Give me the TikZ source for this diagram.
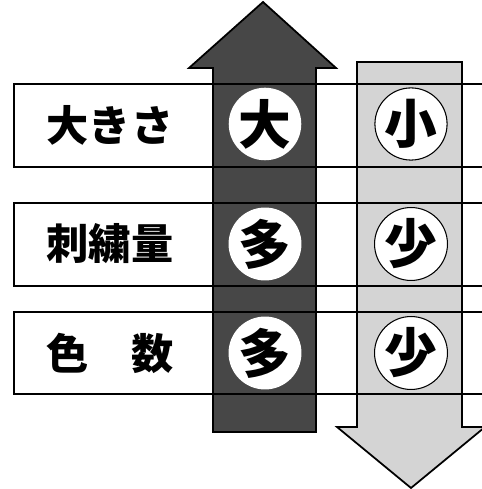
\documentclass[tikz,border=0pt]{standalone}
\usepackage{fontspec}
\newfontfamily\jpfont{Noto Sans CJK JP}
\usepackage{tikz}
\usetikzlibrary{positioning}
\usepackage{xcolor}
\tikzset{%
	rowbox/.style={
		draw,
		line width=1.1pt
	},
	uparrow/.style={
		draw,
		line width=1pt,
		fill=black!72
	},
	downarrow/.style={
		draw,
		line width=1pt,
		fill=black!17
	},
	rowlabel/.style={
		inner sep=0pt,
		font=\jpfont\bfseries\fontsize{24}{24}\selectfont
	},
	bigmark/.style={
		circle,
		fill=white,
		inner sep=0pt,
		minimum size=1.36cm,
		font=\jpfont\bfseries\fontsize{30}{30}\selectfont
	},
	smallmark/.style={
		circle,
		draw,
		line width=0.6pt,
		fill=white,
		inner sep=0pt,
		minimum size=1.44cm,
		font=\jpfont\bfseries\fontsize{30}{30}\selectfont
	},
}

\begin{document}
\begin{tikzpicture}[x=0.02cm,y=0.02cm]
			\useasboundingbox (0,0) rectangle (482,489);
			\clip (0,0) rectangle (482,489);
			
			% Draw the two arrows
			\draw[uparrow] (213,57) -- (213,421) -- (189,421) -- (263,487)
				-- (336,421) -- (316,421) -- (316,57) -- cycle;
			\draw[downarrow] (357,427) -- (357,62) -- (337,62) -- (411,1)
				-- (485,62) -- (462,62) -- (462,427) -- cycle;
			
			% Draw the rows
			\draw[rowbox] (14,322) rectangle (520,405);
			\draw[rowbox] (14,203) rectangle (520,286);
			\draw[rowbox] (14,95) rectangle (520,177);
			
			\node[rowlabel] (size) at (110,364) {大きさ};
			\node[rowlabel] (stitch) at (110,245) {刺繍量};
			\node[rowlabel] (colors) at (110,136) {色　数};
			
			% Draw the marks
			\node[bigmark] (big1) at (265,365) {大};
			\node[bigmark] (big2) at (265,245) {多};
			\node[bigmark] (big3) at (265,136) {多};
			
			\node[smallmark] (small1) at (411,365) {小};
			\node[smallmark] (small2) at (411,245) {少};
			\node[smallmark] (small3) at (411,136) {少};
			
		\end{tikzpicture}
\end{document}
